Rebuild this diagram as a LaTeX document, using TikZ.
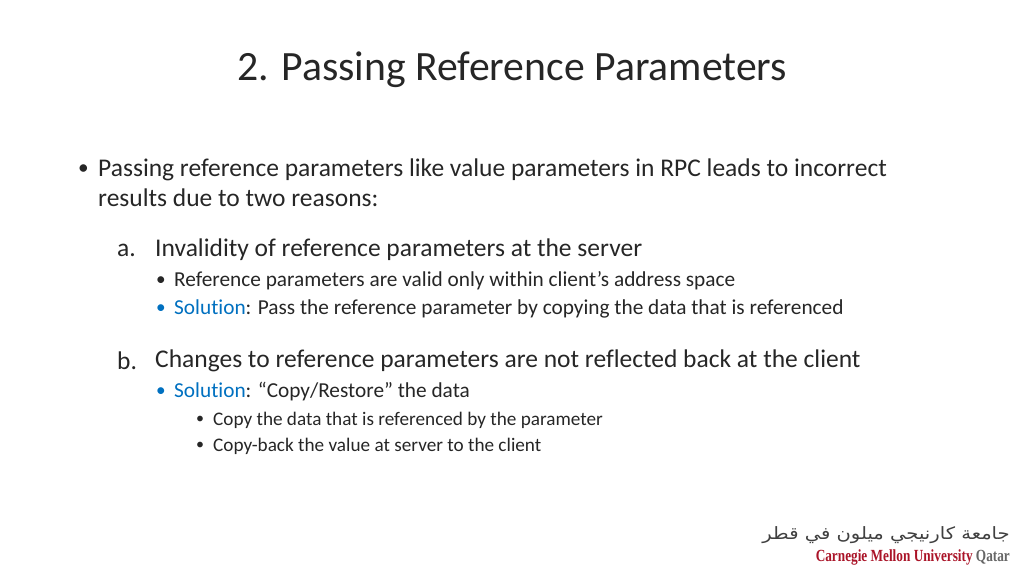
\documentclass[tikz,border=0pt]{standalone}
\usepackage{fontspec}
\setmainfont{Carlito}[Ligatures={NoCommon}]
\newfontfamily\arabicfont[Script=Arabic]{DejaVu Sans}
\newfontfamily\logofont{Liberation Serif}
\TeXXeTstate=1
\definecolor{solblue}{RGB}{0,112,192}
\definecolor{txt}{RGB}{38,38,38}
\definecolor{cmured}{RGB}{170,20,40}
\begin{document}
\begin{tikzpicture}[x=1pt,y=-1pt,
  every node/.style={inner sep=0pt,text=txt},
  l1/.style={anchor=west,font=\fontsize{25.5}{30}\selectfont},
  l2/.style={anchor=west,font=\fontsize{25.5}{30}\selectfont},
  l3/.style={anchor=west,font=\fontsize{21.3}{25}\selectfont},
  l4/.style={anchor=west,font=\fontsize{19.2}{23}\selectfont}]
\useasboundingbox (0,0) rectangle (1024,576);
\node[font=\fontsize{41.7}{50}\selectfont] (title) at (512,70) {2. Passing Reference Parameters};
\node[l3] (b1) at (78,170) {•};
\node[l1] (t1) at (98,170) {Passing reference parameters like value parameters in RPC leads to incorrect};
\node[l1] (t1b) at (98,198) {results due to two reasons:};
\node[l2] (a) at (117,250) {a.};
\node[l2] (ta) at (155,250) {Invalidity of reference parameters at the server};
\node[l4] (ba1) at (156,281) {•};
\node[l3] (ta1) at (174,281) {Reference parameters are valid only within client’s address space};
\node[l4,text=solblue] (ba2) at (156,309) {•};
\node[l3] (ta2) at (174,309) {\textcolor{solblue}{Solution}: Pass the reference parameter by copying the data that is referenced};
\node[l2] (b) at (117,361) {b.};
\node[l2] (tb) at (155,361) {Changes to reference parameters are not reflected back at the client};
\node[l4,text=solblue] (bb1) at (156,392) {•};
\node[l3] (tb1) at (174,392) {\textcolor{solblue}{Solution}: “Copy/Restore” the data};
\node[l4,font=\fontsize{16}{18}\selectfont] (bc1) at (196,420) {•};
\node[l4] (tc1) at (213,420) {Copy the data that is referenced by the parameter};
\node[l4,font=\fontsize{16}{18}\selectfont] (bc2) at (196,446) {•};
\node[l4] (tc2) at (213,446) {Copy-back the value at server to the client};
\node[anchor=east,font=\arabicfont\fontsize{17}{20}\selectfont,text=black!75,xscale=1.15] (ar) at (1010,535) {\beginR جامعة كارنيجي ميلون في قطر\endR};
\node[anchor=east,font=\logofont\bfseries\fontsize{17}{20}\selectfont,text=cmured,xscale=0.78] (en) at (1010,557) {Carnegie Mellon University \textcolor{black!60}{Qatar}};
\end{tikzpicture}
\end{document}
